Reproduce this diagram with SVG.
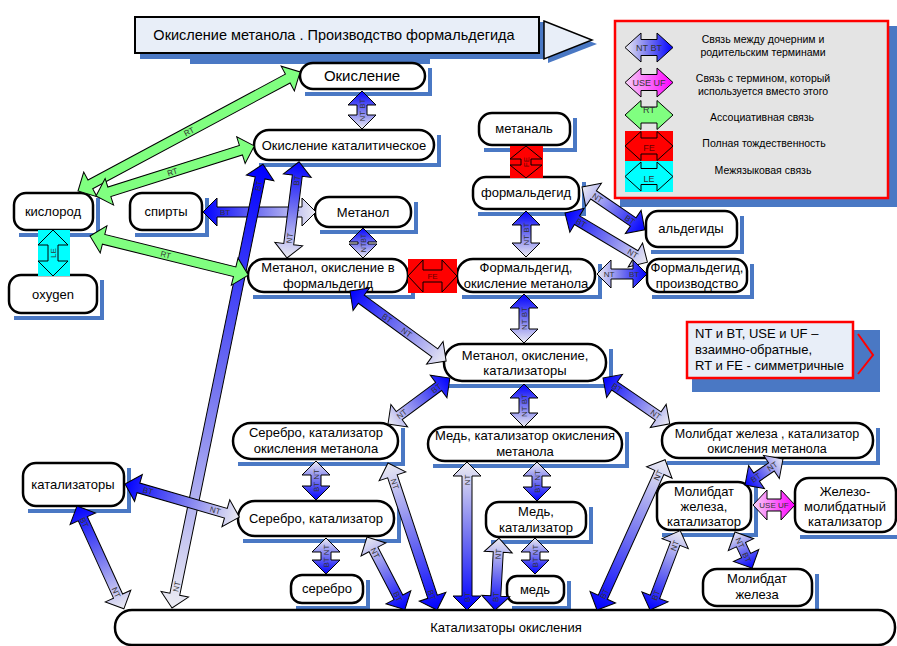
<svg xmlns="http://www.w3.org/2000/svg" width="897" height="646" viewBox="0 0 897 646">
<defs>
<linearGradient id="gb" x1="0" y1="0" x2="1" y2="0"><stop offset="0" stop-color="#0000ff"/><stop offset="0.5" stop-color="#7474f0"/><stop offset="1" stop-color="#ececf2"/></linearGradient>
<linearGradient id="gl" x1="0" y1="0" x2="1" y2="0"><stop offset="0" stop-color="#ececf2"/><stop offset="0.5" stop-color="#7474f0"/><stop offset="1" stop-color="#0000ff"/></linearGradient>
<linearGradient id="gp" x1="0" y1="0" x2="1" y2="0"><stop offset="0" stop-color="#f6d2f6"/><stop offset="1" stop-color="#ff00ff"/></linearGradient>
</defs>
<style>
.t{font-family:"Liberation Sans",Arial,sans-serif;font-size:13px;text-anchor:middle;fill:#000}
.lb{font-family:"Liberation Sans",Arial,sans-serif;font-size:8px;text-anchor:middle;fill:#333}
.lg{font-family:"Liberation Sans",Arial,sans-serif;font-size:10.5px;text-anchor:middle;fill:#000}
.nd{fill:#fff;stroke:#000;stroke-width:2.5}
.sh{fill:none;stroke:#4a78c4;stroke-width:4}
.ar{stroke:#000;stroke-width:1}
.rt{fill:#80ff80;stroke:#000;stroke-width:1}
.blue{fill:#4a78c4}
</style>
<rect width="897" height="646" fill="#fff"/>

<g id="title">
<rect class="blue" x="140" y="22" width="405" height="37"/>
<rect class="blue" x="190" y="55" width="240" height="9"/>
<polygon class="blue" points="548,25 597,44 548,63"/>
<rect x="135" y="17" width="404" height="36" fill="#e8eef8" stroke="#000" stroke-width="2"/>
<polygon points="544,21 592,40 544,59" fill="#e8eef8" stroke="#000" stroke-width="1.5"/>
<text class="t" x="334" y="40" style="font-size:14.5px">Окисление метанола . Производство формальдегида</text>
</g>

<g id="legend">
<rect class="blue" x="620" y="26" width="280" height="181"/>
<rect x="615" y="21" width="273" height="177" fill="#e4e4e4" stroke="#f00" stroke-width="2.5"/>
<g transform="translate(625,47.5)"><polygon class="ar" fill="url(#gl)" points="0,0 16,-14.5 16,-8 32,-8 32,-14.5 48,0 32,14.5 32,8 16,8 16,14.5"/><text class="lb" x="24" y="3" style="font-size:9px">NT BT</text></g>
<g transform="translate(625,82.5)"><polygon class="ar" fill="url(#gp)" points="0,0 16,-14.5 16,-8 32,-8 32,-14.5 48,0 32,14.5 32,8 16,8 16,14.5"/><text class="lb" x="24" y="3" style="font-size:9px">USE UF</text></g>
<g transform="translate(625,115)"><polygon class="rt" points="0,0 16,-14.5 16,-8 32,-8 32,-14.5 48,0 32,14.5 32,8 16,8 16,14.5"/><text class="lb" x="24" y="-2" style="font-size:9px">RT</text></g>
<rect x="625" y="131" width="48" height="30" fill="#f00"/>
<g transform="translate(625,146)"><polygon class="ar" fill="#f00" points="0,0 16,-14.5 16,-8 32,-8 32,-14.5 48,0 32,14.5 32,8 16,8 16,14.5"/><text class="lb" x="24" y="5" style="font-size:9px;fill:#600">FE</text></g>
<rect x="625" y="161" width="48" height="31" fill="#0ff"/>
<g transform="translate(625,176.5)"><polygon class="ar" fill="#0ff" points="0,0 16,-14.5 16,-8 32,-8 32,-14.5 48,0 32,14.5 32,8 16,8 16,14.5"/><text class="lb" x="24" y="5" style="font-size:9px">LE</text></g>
<text class="lg" x="763" y="43">Связь между дочерним и</text>
<text class="lg" x="763" y="56">родительским терминами</text>
<text class="lg" x="763" y="82">Связь с термином, который</text>
<text class="lg" x="763" y="95">используется вместо этого</text>
<text class="lg" x="762" y="121">Ассоциативная связь</text>
<text class="lg" x="764" y="147">Полная тождественность</text>
<text class="lg" x="763" y="174">Межязыковая связь</text>
</g>

<g id="note">
<rect class="blue" x="692" y="330" width="188" height="62"/>
<rect x="687" y="322" width="166" height="56" fill="#e8eef8" stroke="#f00" stroke-width="2.5"/>
<polyline points="858,334 873,355 858,374" fill="none" stroke="#f00" stroke-width="2"/>
<text class="t" x="695" y="338" style="text-anchor:start">NT и BT, USE и UF –</text>
<text class="t" x="695" y="354" style="text-anchor:start">взаимно-обратные,</text>
<text class="t" x="695" y="370" style="text-anchor:start">RT и FE - симметричные</text>
</g>

<g id="n-okislenie"><path class="sh" d="M305,94H430V68"/><rect class="nd" x="300" y="63" width="125" height="26" rx="13"/><text class="t" x="362" y="81" style="font-size:15px">Окисление</text></g>
<g id="n-okisl-kat"><path class="sh" d="M259,165H439V135"/><rect class="nd" x="254" y="130" width="180" height="30" rx="15"/><text class="t" x="344" y="150">Окисление каталитическое</text></g>
<g id="n-metanol"><path class="sh" d="M320,232H416V202"/><rect class="nd" x="315" y="197" width="96" height="30" rx="14"/><text class="t" x="363" y="217">Метанол</text></g>
<g id="n-movf"><path class="sh" d="M253,297H413V264"/><rect class="nd" x="248" y="259" width="160" height="33" rx="16"/><text class="t" x="328" y="272">Метанол, окисление в</text><text class="t" x="328" y="288">формальдегид</text></g>
<g id="n-kislorod"><path class="sh" d="M19,235H98V198"/><rect class="nd" x="14" y="193" width="79" height="37" rx="12"/><text class="t" x="53" y="216">кислород</text></g>
<g id="n-oxygen"><path class="sh" d="M14,318H102V280"/><rect class="nd" x="9" y="275" width="88" height="38" rx="12"/><text class="t" x="53" y="299">oxygen</text></g>
<g id="n-spirty"><path class="sh" d="M135,235H207V198"/><rect class="nd" x="130" y="193" width="72" height="37" rx="12"/><text class="t" x="166" y="216">спирты</text></g>
<g id="n-metanal"><path class="sh" d="M484,150H575V118"/><rect class="nd" x="479" y="113" width="91" height="32" rx="13"/><text class="t" x="524" y="133">метаналь</text></g>
<g id="n-formaldegid"><path class="sh" d="M478,214H584V182"/><rect class="nd" x="473" y="177" width="106" height="32" rx="13"/><text class="t" x="526" y="197">формальдегид</text></g>
<g id="n-aldegidy"><path class="sh" d="M651,252H742V216"/><rect class="nd" x="646" y="211" width="91" height="36" rx="12"/><text class="t" x="691" y="233">альдегиды</text></g>
<g id="n-fom"><path class="sh" d="M462,297H600V264"/><rect class="nd" x="457" y="259" width="138" height="33" rx="16"/><text class="t" x="526" y="272">Формальдегид,</text><text class="t" x="526" y="288">окисление метанола</text></g>
<g id="n-fproizv"><path class="sh" d="M652,297H752V264"/><rect class="nd" x="647" y="259" width="100" height="33" rx="12"/><text class="t" x="697" y="272">Формальдегид,</text><text class="t" x="697" y="288">производство</text></g>
<g id="n-mok"><path class="sh" d="M449,386H611V349"/><rect class="nd" x="444" y="344" width="162" height="37" rx="18"/><text class="t" x="525" y="360">Метанол, окисление,</text><text class="t" x="525" y="375">катализаторы</text></g>
<g id="n-skom"><path class="sh" d="M238,464H403V428"/><rect class="nd" x="233" y="423" width="165" height="36" rx="18"/><text class="t" x="316" y="437">Серебро, катализатор</text><text class="t" x="316" y="453">окисления метанола</text></g>
<g id="n-mkom"><path class="sh" d="M433,466H627V432"/><rect class="nd" x="428" y="427" width="194" height="34" rx="17"/><text class="t" x="525" y="440">Медь, катализатор окисления</text><text class="t" x="525" y="456">метанола</text></g>
<g id="n-mzkom"><path class="sh" d="M667,463H878V428"/><rect class="nd" x="662" y="423" width="211" height="35" rx="17"/><text class="t" x="767" y="437.5" style="font-size:12.5px">Молибдат железа , катализатор</text><text class="t" x="767" y="452.5" style="font-size:12.5px">окисления метанола</text></g>
<g id="n-katalizatory"><path class="sh" d="M28,511H129V468"/><rect class="nd" x="23" y="463" width="101" height="43" rx="13"/><text class="t" x="73" y="489">катализаторы</text></g>
<g id="n-sk"><path class="sh" d="M243,541H399V506"/><rect class="nd" x="238" y="501" width="156" height="35" rx="17"/><text class="t" x="316" y="523">Серебро, катализатор</text></g>
<g id="n-serebro"><path class="sh" d="M296,608H368V580"/><rect class="nd" x="291" y="575" width="72" height="28" rx="11"/><text class="t" x="327" y="593">серебро</text></g>
<g id="n-mk"><path class="sh" d="M491,542H591V507"/><rect class="nd" x="486" y="502" width="100" height="35" rx="13"/><text class="t" x="536" y="516">Медь,</text><text class="t" x="536" y="532">катализатор</text></g>
<g id="n-med"><path class="sh" d="M512,608H569V581"/><rect class="nd" x="507" y="576" width="57" height="27" rx="10"/><text class="t" x="535" y="594">медь</text></g>
<g id="n-mzk"><path class="sh" d="M662,535H756V487"/><rect class="nd" x="657" y="482" width="94" height="48" rx="13"/><text class="t" x="704" y="496">Молибдат</text><text class="t" x="704" y="511">железа,</text><text class="t" x="704" y="526">катализатор</text></g>
<g id="n-zmk"><path class="sh" d="M800,537H901V483"/><rect class="nd" x="795" y="478" width="101" height="54" rx="14"/><text class="t" x="845" y="496">Железо-</text><text class="t" x="845" y="511">молибдатный</text><text class="t" x="845" y="526">катализатор</text></g>
<g id="n-mz"><path class="sh" d="M708,611H817V574"/><rect class="nd" x="703" y="569" width="109" height="37" rx="14"/><text class="t" x="757" y="583">Молибдат</text><text class="t" x="757" y="599">железа</text></g>
<g id="n-ko"><path class="sh" d="M120,650H900V615"/><rect class="nd" x="115" y="610" width="780" height="35" rx="17"/><text class="t" x="506" y="632">Катализаторы окисления</text></g>

<g id="connectors">
<rect x="38" y="230" width="32" height="46" fill="#0ff"/>
<g transform="translate(53,276) rotate(-90)"><polygon class="ar" fill="#0ff" points="0,0 15,-15 15,-5 31,-5 31,-15 46,0 31,15 31,5 15,5 15,15"/><text class="lb" x="23" y="3">LE</text></g>
<rect x="408" y="259" width="49" height="34" fill="#f00"/>
<g transform="translate(408,276)"><polygon class="ar" fill="#f00" points="0,0 15,-16 15,-6 34,-6 34,-16 49,0 34,16 34,6 15,6 15,16"/><text class="lb" x="24.5" y="3" style="fill:#600">FE</text></g>
<rect x="510" y="146" width="33" height="32" fill="#f00"/>
<g transform="translate(526,178) rotate(-90)"><polygon class="ar" fill="#f00" points="0,0 13,-16 13,-5 19,-5 19,-16 32,0 19,16 19,5 13,5 13,16"/><text class="lb" x="16" y="3" style="fill:#600">FE</text></g>
<g transform="translate(362,129) rotate(-90)"><polygon class="ar" fill="url(#gl)" points="0,0 14,-14 14,-5 24,-5 24,-14 38,0 24,14 24,5 14,5 14,14"/><text class="lb" x="19" y="3">NT BT</text></g>
<g transform="translate(203,212)"><polygon class="ar" fill="url(#gb)" points="0,0 14,-14 14,-5 99,-5 99,-14 113,0 99,14 99,5 14,5 14,14"/><text class="lb" x="22" y="3">BT</text><text class="lb" x="91" y="3">NT</text></g>
<g transform="translate(287,258) rotate(-82.87)"><polygon class="ar" fill="url(#gl)" points="0,0 14,-14 14,-5 83,-5 83,-14 97,0 83,14 83,5 14,5 14,14"/><text class="lb" x="20" y="3">NT</text><text class="lb" x="78" y="3">BT</text></g>
<g transform="translate(172,608) rotate(-78.42)"><polygon class="ar" fill="url(#gl)" points="0,0 14,-14 14,-5 439,-5 439,-14 453,0 439,14 439,5 14,5 14,14"/><text class="lb" x="22" y="3">NT</text><text class="lb" x="431" y="3">BT</text></g>
<g transform="translate(363,258) rotate(-90)"><polygon class="ar" fill="url(#gl)" points="0,0 14,-14 14,-5 16,-5 16,-14 30,0 16,14 16,5 14,5 14,14"/><text class="lb" x="15" y="3" style="font-size:7px">NTBT</text></g>
<g transform="translate(526,257) rotate(-90)"><polygon class="ar" fill="url(#gl)" points="0,0 14,-14 14,-5 32,-5 32,-14 46,0 32,14 32,5 14,5 14,14"/><text class="lb" x="23" y="3">NT BT</text></g>
<g transform="translate(582,187) rotate(34.3)"><polygon class="ar" fill="url(#gl)" points="0,0 14,-14 14,-5 62,-5 62,-14 76,0 62,14 62,5 14,5 14,14"/><text class="lb" x="19" y="3">NT</text><text class="lb" x="58" y="3">BT</text></g>
<g transform="translate(565,213) rotate(30.86)"><polygon class="ar" fill="url(#gb)" points="0,0 14,-14 14,-5 82,-5 82,-14 96,0 82,14 82,5 14,5 14,14"/><text class="lb" x="19" y="3">BT</text><text class="lb" x="79" y="3">NT</text></g>
<g transform="translate(597,274)"><polygon class="ar" fill="url(#gl)" points="0,0 14,-14 14,-5 36,-5 36,-14 50,0 36,14 36,5 14,5 14,14"/><text class="lb" x="12" y="3">NT</text><text class="lb" x="37" y="3">BT</text></g>
<g transform="translate(350,291) rotate(36.1)"><polygon class="ar" fill="url(#gb)" points="0,0 14,-14 14,-5 105,-5 105,-14 119,0 105,14 105,5 14,5 14,14"/><text class="lb" x="46" y="3">BT</text><text class="lb" x="70" y="3">NT</text></g>
<g transform="translate(524,343) rotate(-90)"><polygon class="ar" fill="url(#gl)" points="0,0 14,-14 14,-5 35,-5 35,-14 49,0 35,14 35,5 14,5 14,14"/><text class="lb" x="24.5" y="3">NT BT</text></g>
<g transform="translate(524,427) rotate(-90)"><polygon class="ar" fill="url(#gl)" points="0,0 14,-14 14,-5 29,-5 29,-14 43,0 29,14 29,5 14,5 14,14"/><text class="lb" x="21.5" y="3">NT BT</text></g>
<g transform="translate(388,424) rotate(-36.57)"><polygon class="ar" fill="url(#gl)" points="0,0 14,-14 14,-5 63,-5 63,-14 77,0 63,14 63,5 14,5 14,14"/><text class="lb" x="17" y="3">NT</text><text class="lb" x="60" y="3">BT</text></g>
<g transform="translate(603,378) rotate(34.47)"><polygon class="ar" fill="url(#gb)" points="0,0 14,-14 14,-5 67,-5 67,-14 81,0 67,14 67,5 14,5 14,14"/><text class="lb" x="17" y="3">BT</text><text class="lb" x="64" y="3">NT</text></g>
<g transform="translate(316,500) rotate(-90)"><polygon class="ar" fill="url(#gb)" points="0,0 14,-14 14,-5 25,-5 25,-14 39,0 25,14 25,5 14,5 14,14"/><text class="lb" x="19.5" y="3">BT NT</text></g>
<g transform="translate(326,574) rotate(-90)"><polygon class="ar" fill="url(#gb)" points="0,0 14,-14 14,-5 22,-5 22,-14 36,0 22,14 22,5 14,5 14,14"/><text class="lb" x="18" y="3">BT NT</text></g>
<g transform="translate(125,484) rotate(16.14)"><polygon class="ar" fill="url(#gb)" points="0,0 14,-14 14,-5 105,-5 105,-14 119,0 105,14 105,5 14,5 14,14"/><text class="lb" x="24" y="3">BT</text><text class="lb" x="94" y="3">NT</text></g>
<g transform="translate(77,506) rotate(65.5)"><polygon class="ar" fill="url(#gb)" points="0,0 14,-14 14,-5 99,-5 99,-14 113,0 99,14 99,5 14,5 14,14"/><text class="lb" x="18" y="3">BT</text><text class="lb" x="95" y="3">NT</text></g>
<g transform="translate(367,537) rotate(62.5)"><polygon class="ar" fill="url(#gl)" points="0,0 14,-14 14,-5 68,-5 68,-14 82,0 68,14 68,5 14,5 14,14"/><text class="lb" x="18" y="3">NT</text><text class="lb" x="67" y="3">BT</text></g>
<g transform="translate(388,463) rotate(71.57)"><polygon class="ar" fill="url(#gl)" points="0,0 14,-14 14,-5 141,-5 141,-14 155,0 141,14 141,5 14,5 14,14"/><text class="lb" x="22" y="3">NT</text><text class="lb" x="139" y="3">BT</text></g>
<g transform="translate(467,610) rotate(-90)"><polygon class="ar" fill="url(#gb)" points="0,0 14,-14 14,-5 134,-5 134,-14 148,0 134,14 134,5 14,5 14,14"/><text class="lb" x="13" y="3">BT</text><text class="lb" x="130" y="3">NT</text></g>
<g transform="translate(495,610) rotate(-86.8)"><polygon class="ar" fill="url(#gb)" points="0,0 14,-14 14,-5 58,-5 58,-14 72,0 58,14 58,5 14,5 14,14"/><text class="lb" x="13" y="3">BT</text><text class="lb" x="56" y="3">NT</text></g>
<g transform="translate(537,501) rotate(-90)"><polygon class="ar" fill="url(#gb)" points="0,0 14,-14 14,-5 25,-5 25,-14 39,0 25,14 25,5 14,5 14,14"/><text class="lb" x="19.5" y="3">BT NT</text></g>
<g transform="translate(535,574) rotate(-90)"><polygon class="ar" fill="url(#gb)" points="0,0 14,-14 14,-5 22,-5 22,-14 36,0 22,14 22,5 14,5 14,14"/><text class="lb" x="18" y="3">BT NT</text></g>
<g transform="translate(597,610) rotate(-65.62)"><polygon class="ar" fill="url(#gb)" points="0,0 14,-14 14,-5 151,-5 151,-14 165,0 151,14 151,5 14,5 14,14"/><text class="lb" x="18" y="3">BT</text><text class="lb" x="148" y="3">NT</text></g>
<g transform="translate(650,610) rotate(-69.2)"><polygon class="ar" fill="url(#gb)" points="0,0 14,-14 14,-5 71,-5 71,-14 85,0 71,14 71,5 14,5 14,14"/><text class="lb" x="16" y="3">BT</text><text class="lb" x="69" y="3">NT</text></g>
<g transform="translate(745,485) rotate(-34.4)"><polygon class="ar" fill="url(#gb)" points="0,0 14,-14 14,-5 32,-5 32,-14 46,0 32,14 32,5 14,5 14,14"/><text class="lb" x="13" y="3">BT</text><text class="lb" x="33" y="3">NT</text></g>
<g transform="translate(735,532) rotate(64.7)"><polygon class="ar" fill="url(#gl)" points="0,0 14,-14 14,-5 26,-5 26,-14 40,0 26,14 26,5 14,5 14,14"/><text class="lb" x="12" y="3">NT</text><text class="lb" x="28" y="3">BT</text></g>
<g transform="translate(753,505)"><polygon class="ar" fill="url(#gp)" points="0,0 14,-15 14,-6 28,-6 28,-15 42,0 28,15 28,6 14,6 14,15"/><text class="lb" x="21" y="3">USE UF</text></g>
<g transform="translate(78,191) rotate(-28.2)"><polygon class="rt" points="0,0 14,-14 14,-5 238,-5 238,-14 252,0 238,14 238,5 14,5 14,14"/><text class="lb" x="126" y="3">RT</text></g>
<g transform="translate(96,196) rotate(-17.56)"><polygon class="rt" points="0,0 14,-14 14,-5 152,-5 152,-14 166,0 152,14 152,5 14,5 14,14"/><text class="lb" x="80" y="3">RT</text></g>
<g transform="translate(90,236) rotate(13.87)"><polygon class="rt" points="0,0 14,-14 14,-5 149,-5 149,-14 163,0 149,14 149,5 14,5 14,14"/><text class="lb" x="78" y="3">RT</text></g>
</g>
</svg>
